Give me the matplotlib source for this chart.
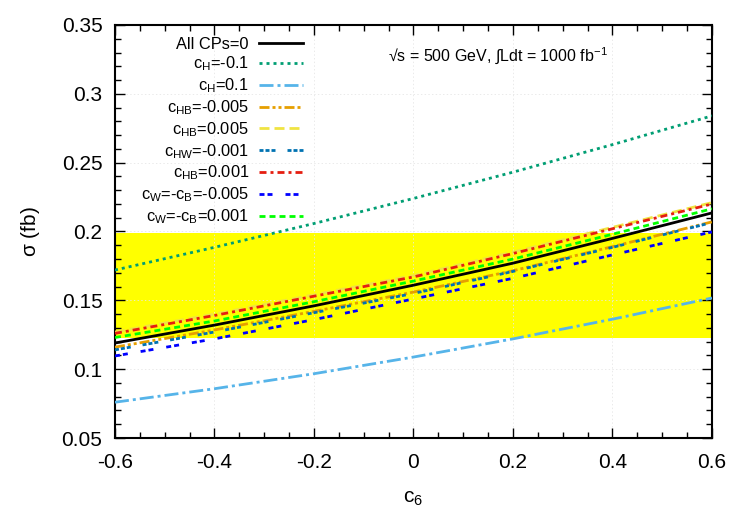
import matplotlib
matplotlib.use("Agg")
import matplotlib.pyplot as plt
from matplotlib.ticker import MultipleLocator

plt.rcParams['font.family'] = ['Liberation Sans', 'DejaVu Sans']
plt.rcParams['mathtext.fontset'] = 'custom'
plt.rcParams['mathtext.rm'] = 'Liberation Sans'
plt.rcParams['mathtext.it'] = 'Liberation Sans'
plt.rcParams['lines.scale_dashes'] = False

c6 = [-0.6, -0.4, -0.2, 0.0, 0.2, 0.4, 0.6]
sm_all0 = [0.119, 0.132, 0.146, 0.161, 0.177, 0.195, 0.2135]
cH_m01 = [0.172, 0.1885, 0.2058, 0.224, 0.2431, 0.2631, 0.284]
cH_p01 = [0.076, 0.0858, 0.0967, 0.1088, 0.1220, 0.1363, 0.1517]
cHB_m0005 = [0.116, 0.1285, 0.142, 0.156, 0.1715, 0.189, 0.207]
cHB_p0005 = [0.127, 0.140, 0.154, 0.168, 0.185, 0.203, 0.221]
cHW_m0001 = [0.114, 0.127, 0.141, 0.155, 0.171, 0.1885, 0.2065]
cHB_p0001 = [0.126, 0.139, 0.153, 0.167, 0.184, 0.202, 0.220]
cWB_m0005 = [0.1096, 0.122, 0.136, 0.151, 0.166, 0.183, 0.1997]
cWB_p0001 = [0.123, 0.135, 0.149, 0.164, 0.180, 0.198, 0.2165]
band_lo, band_hi = 0.123, 0.199

labels = ['All CPs=0', r'c$_{\rm H}$=-0.1', r'c$_{\rm H}$=0.1', r'c$_{\rm HB}$=-0.005',
          r'c$_{\rm HB}$=0.005', r'c$_{\rm HW}$=-0.001', r'c$_{\rm HB}$=0.001',
          r'c$_{\rm W}$=-c$_{\rm B}$=-0.005', r'c$_{\rm W}$=-c$_{\rm B}$=0.001']

def px(*v):
    return tuple(x * 0.72 for x in v)

series = [
    (sm_all0, 'black', None, 2.0),
    (cH_m01, '#009e73', px(3, 4), 2.0),
    (cH_p01, '#56b4e9', px(14, 4, 3, 4), 2.0),
    (cHB_m0005, '#e69f00', px(10, 3, 3, 3, 3, 3), 2.0),
    (cHB_p0005, '#f0e442', px(10, 5), 2.0),
    (cHW_m0001, '#0072b2', px(4, 2, 4, 2, 4, 12), 2.0),
    (cHB_p0001, '#e51e10', px(7, 4, 3, 4), 2.0),
    (cWB_m0005, '#0000ff', px(5, 3, 5, 13), 2.0),
    (cWB_p0001, '#00ff00', px(6, 4), 2.0),
]

fig = plt.figure(figsize=(7.5, 5.25), dpi=100)
ax = fig.add_axes([0.1533, 0.1657, 0.7960, 0.7867])

ax.fill_between([-0.6, 0.6], [band_lo, band_lo], [band_hi, band_hi], color='#ffff00', lw=0, zorder=1)

for (ys, col, dash, lw), lab in zip(series, labels):
    if dash is None:
        ax.plot(c6, ys, color=col, lw=lw, label=lab, zorder=3)
    else:
        ax.plot(c6, ys, color=col, lw=lw, dashes=dash, label=lab, zorder=3)

ax.set_xlim(-0.6, 0.6)
ax.set_ylim(0.05, 0.35)
ax.xaxis.set_minor_locator(MultipleLocator(0.05))
ax.yaxis.set_minor_locator(MultipleLocator(0.01))
ax.set_xticks([-0.6, -0.4, -0.2, 0, 0.2, 0.4, 0.6])
ax.set_xticklabels(['-0.6', '-0.4', '-0.2', '0', '0.2', '0.4', '0.6'])
ax.set_yticks([0.05, 0.1, 0.15, 0.2, 0.25, 0.3, 0.35])
ax.set_yticklabels(['0.05', '0.1', '0.15', '0.2', '0.25', '0.3', '0.35'])
ax.tick_params(which='both', direction='in', top=True, right=True, labelsize=15)
ax.tick_params(axis='x', which='major', pad=11)
ax.tick_params(axis='y', which='major', pad=9)
ax.tick_params(which='major', length=7, width=1)
ax.tick_params(which='minor', length=4, width=1)
for s in ax.spines.values():
    s.set_linewidth(1.5)
ax.grid(True, which='major', color='#e6e6e6', lw=0.6, ls=':', zorder=1.5)

ax.set_xlabel(r'c$_6$', fontsize=15, labelpad=12)
ax.set_ylabel(r'$\sigma$ (fb)', fontsize=15, labelpad=14)

ax.text(0.457, 0.925, r'√s = 500 GeV, $\int$Ldt = 1000 fb$^{-1}$', transform=ax.transAxes,
        fontsize=11.5, ha='left', va='center')

leg = ax.legend(loc='upper right', bbox_to_anchor=(0.315, 0.972), markerfirst=False,
                frameon=False, fontsize=11.8, borderpad=0, borderaxespad=0,
                handlelength=2.7, handletextpad=0.6, labelspacing=0.19)

fig.savefig('out.png', dpi=100)
